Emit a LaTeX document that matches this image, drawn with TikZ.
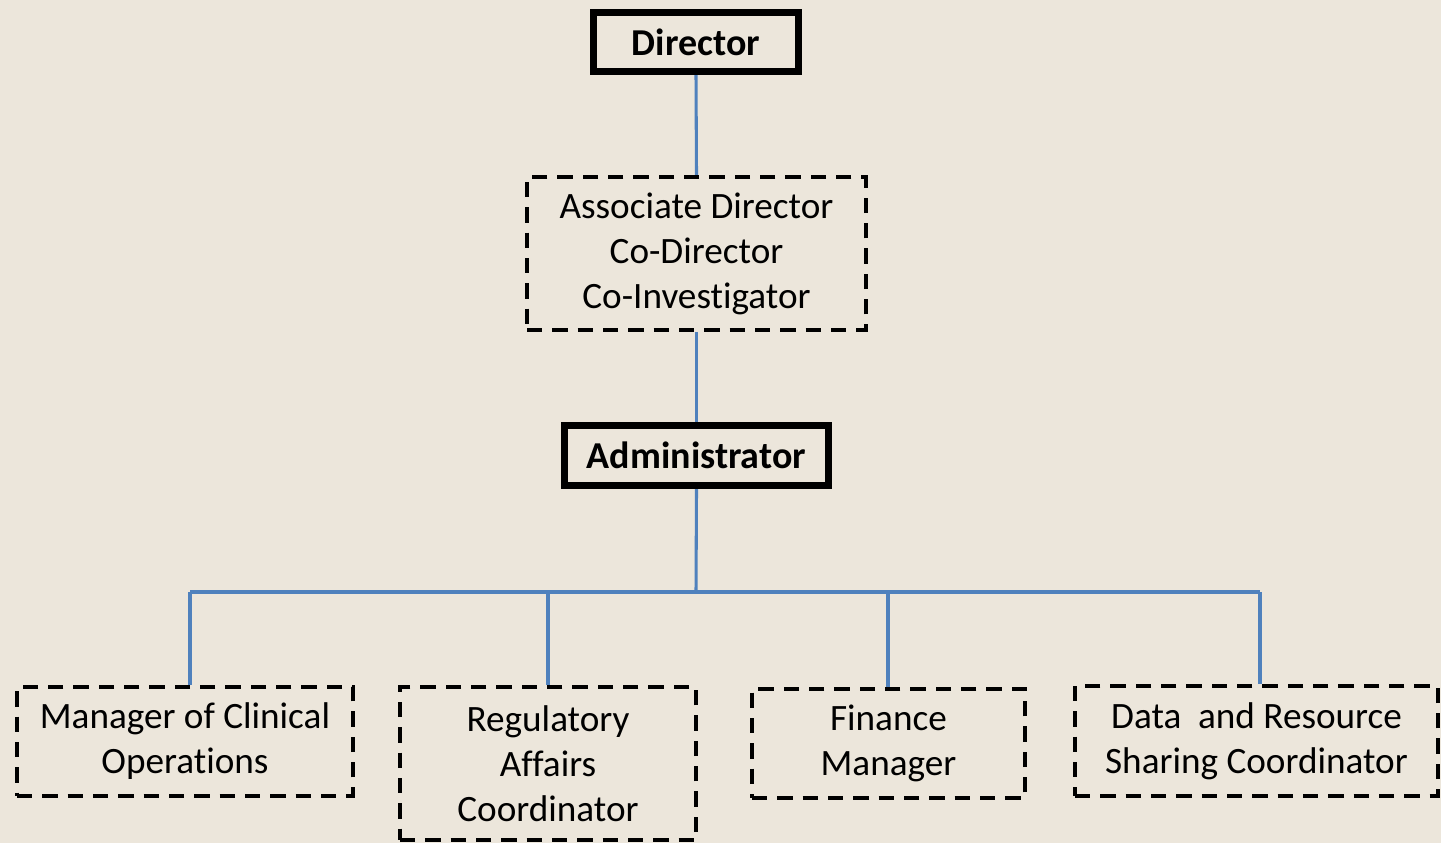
\documentclass[tikz,border=0pt]{standalone}
\usepackage{fontspec}
\setmainfont{Carlito}[Ligatures={NoCommon}]
\usetikzlibrary{calc}
\definecolor{bg}{RGB}{236,230,219}
\definecolor{link}{RGB}{79,129,189}
\tikzset{
  solidbox/.style={draw=black, line width=5.6pt, inner sep=0pt, align=center,
    font=\fontsize{28.5}{33.75}\selectfont\bfseries},
  dashbox/.style={draw=black, line width=3.1pt, dash pattern=on 11.5pt off 7.5pt,
    inner sep=0pt, align=center, font=\fontsize{27.9}{33.75}\selectfont},
  conn/.style={draw=link, line width=2.3pt}
}
\begin{document}
\begin{tikzpicture}[x=0.75pt, y=-0.75pt]
\fill[bg] (0,0) rectangle (1441,843);
\useasboundingbox (0,0) rectangle (1441,843);

\node[solidbox, minimum width=205*0.75pt, minimum height=59*0.75pt] (dir) at (696,42) {Director};
\node[dashbox, minimum width=339*0.75pt, minimum height=153*0.75pt] (assoc) at (696.5,253.5)
  {Associate Director\\Co-Director\\Co-Investigator};
\node[solidbox, minimum width=264*0.75pt, minimum height=60*0.75pt] (adm) at (696.5,455.5) {Administrator};

\node[dashbox, minimum width=336*0.75pt, minimum height=109*0.75pt] (mgr) at (185,741.5)
  {Manager of Clinical\\Operations};
\node[dashbox, minimum width=296*0.75pt, minimum height=153*0.75pt] (reg) at (548,763.5)
  {Regulatory\\Affairs\\Coordinator};
\node[dashbox, minimum width=273*0.75pt, minimum height=109*0.75pt] (fin) at (888.5,743.5)
  {Finance\\Manager};
\node[dashbox, minimum width=363*0.75pt, minimum height=110*0.75pt] (data) at (1256.5,741)
  {Data\ \ and Resource\\Sharing Coordinator};

\coordinate (bus) at (696,592);
\coordinate (b1) at (190,592);
\coordinate (b2) at (548,592);
\coordinate (b3) at (888,592);
\coordinate (b4) at (1260,592);

\draw[conn] (dir.south) -- (assoc.north);
\draw[conn] (assoc.south) -- (adm.south |- assoc.south) -- (adm.north);
\draw[conn] (adm.south) -- (bus);
\draw[conn] (b1) -- (b4);
\draw[conn] (b1) -- (b1 |- mgr.north);
\draw[conn] (b2) -- (b2 |- reg.north);
\draw[conn] (b3) -- (b3 |- fin.north);
\draw[conn] (b4) -- (b4 |- data.north);
\end{tikzpicture}
\end{document}
